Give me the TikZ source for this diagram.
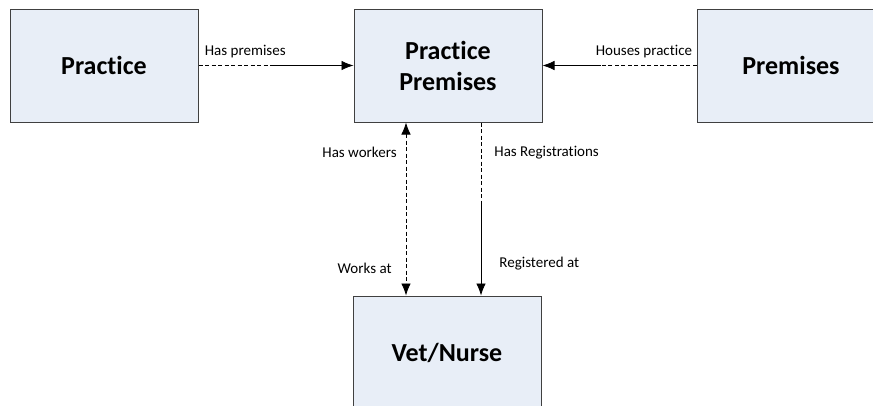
\documentclass[tikz,border=0pt]{standalone}
\usepackage{fontspec}
\setmainfont{Carlito}[Ligatures={NoCommon}]
\usepackage{xcolor}
\usepackage{tikz}
\usetikzlibrary{
	arrows.meta,
	positioning,
	calc
}

\definecolor{boxfill}{HTML}{E8EEF7}
\definecolor{boxline}{HTML}{404040}

\begin{document}
\begin{tikzpicture}[
        x=1pt, y=1pt,
        >={Latex[length=12pt, width=9.5pt]},
        line width=0.8pt,
        % entity box
        entity/.style={
            rectangle, draw=boxline, fill=boxfill,
            line width=1pt,
            minimum width=188pt,
            minimum height=113pt,
            align=center,
            font=\fontsize{26}{31}\selectfont\bfseries
        },
        % relation label
        rel/.style={
            font=\fontsize{15}{18}\selectfont,
            inner sep=0pt
        },
        half/.style={dash pattern=on 4pt off 2.5pt}
    ]

        % canvas
        \useasboundingbox (0,0) rectangle (873,-405);
        \clip (0,0) rectangle (873,-405);

        % ====================
        % entities
        % ====================
        \node[entity] (practice) at (104,-65.5) {Practice};
        \node[entity] (pracprem) at (448,-65.5) {Practice\\Premises};
        \node[entity] (premises) at (791,-65.5) {Premises};
        \node[entity] (vetnurse) at (447,-352.5) {Vet/Nurse};

        % ====================
        % relations
        % ====================

        % Practice -> Practice Premises
        \coordinate (m1) at ($(practice.east)!0.47!(pracprem.west)$);
        \draw[half] (practice.east) -- (m1);
        \draw[->] (m1) -- (pracprem.west);
        \node[rel, anchor=base west] (l1) at ([xshift=6pt, yshift=10pt]practice.east) {Has premises};

        % Premises -> Practice Premises
        \coordinate (m2) at ($(premises.west)!0.62!(pracprem.east)$);
        \draw[half] (premises.west) -- (m2);
        \draw[->] (m2) -- (pracprem.east);
        \node[rel, anchor=base east] (l2) at ([xshift=-4pt, yshift=10pt]premises.west) {Houses practice};

        % workers (both ways, dashed)
        \coordinate (w1) at ([xshift=-42pt]pracprem.south);
        \coordinate (w2) at (w1 |- vetnurse.north);
        \draw[<->, half] (w1) -- (w2);
        \node[rel, anchor=east] (l3) at ([xshift=-9pt, yshift=-30pt]w1) {Has workers};
        \node[rel, anchor=east] (l4) at ([xshift=-14pt, yshift=27pt]w2) {Works at};

        % registrations
        \coordinate (r1) at ([xshift=33pt]pracprem.south);
        \coordinate (r2) at (r1 |- vetnurse.north);
        \coordinate (r3) at ([yshift=-82pt]r1);
        \draw[half] (r1) -- (r3);
        \draw[->] (r3) -- (r2);
        \node[rel, anchor=west] (l5) at ([xshift=13pt, yshift=-30pt]r1) {Has Registrations};
        \node[rel, anchor=west] (l6) at ([xshift=18pt, yshift=32pt]r2) {Registered at};

    \end{tikzpicture}
\end{document}
